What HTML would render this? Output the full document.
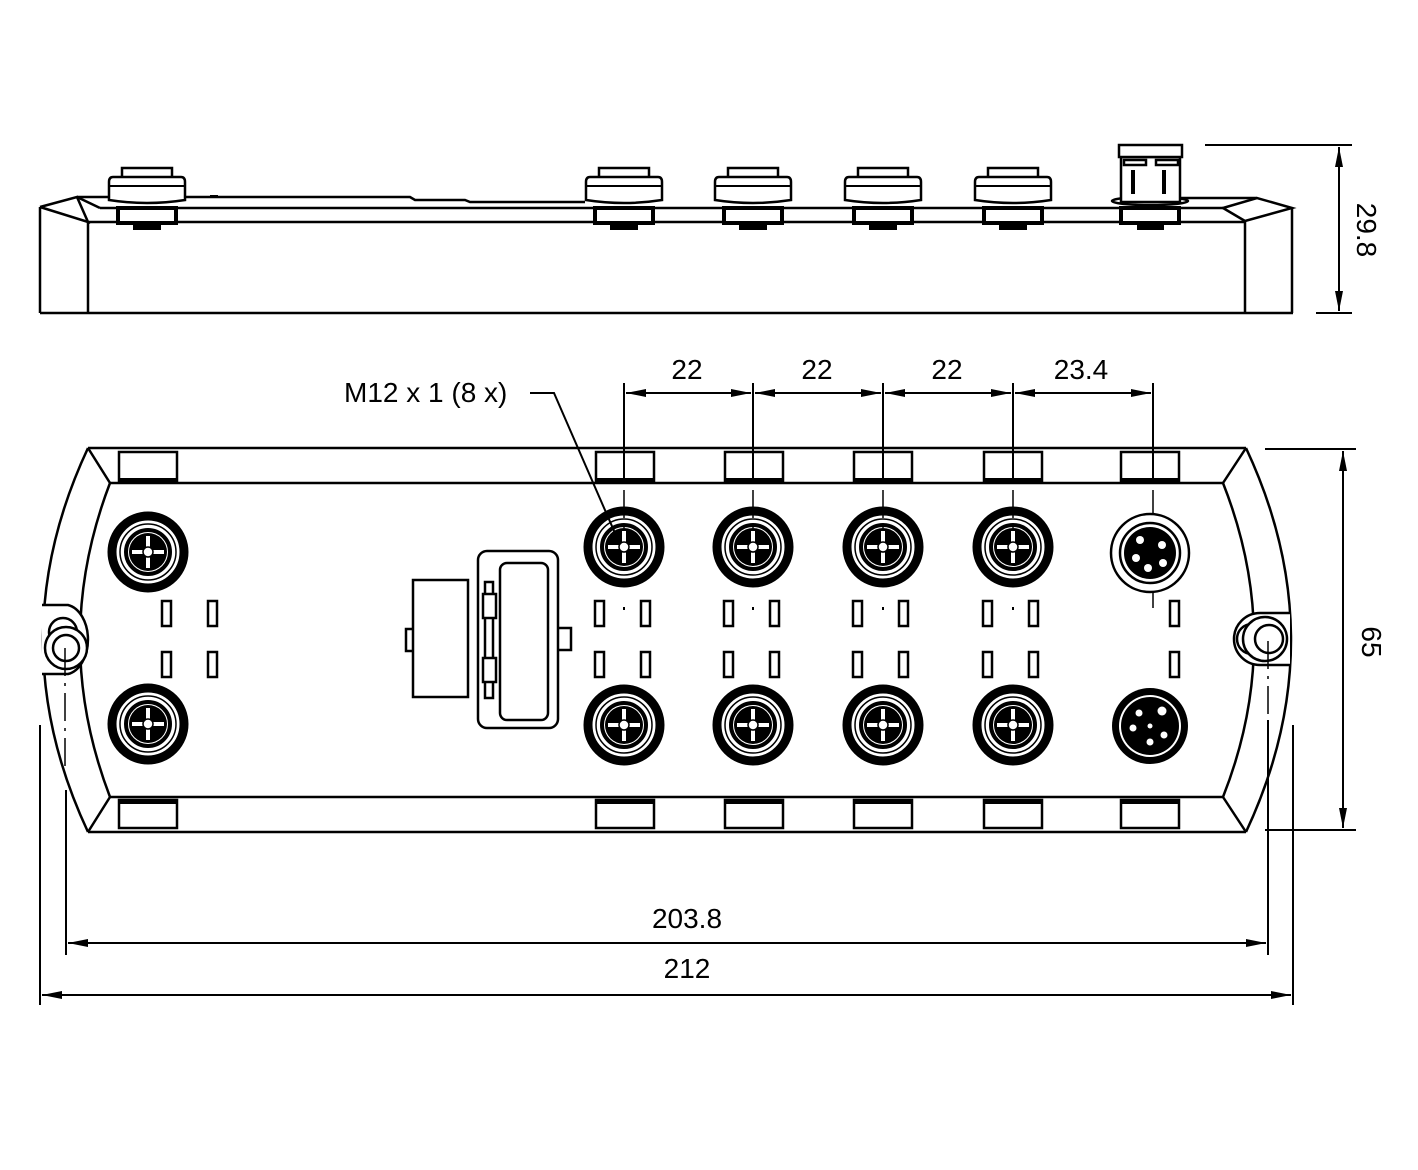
<!DOCTYPE html>
<html><head><meta charset="utf-8"><style>
html,body{margin:0;padding:0;background:#fff;}
svg{display:block;}
text{font-family:"Liberation Sans",Arial,sans-serif;font-size:28px;fill:#000;}
</style></head><body>
<svg width="1418" height="1170" viewBox="0 0 1418 1170" xmlns="http://www.w3.org/2000/svg">
<defs>
<marker id="a" viewBox="0 0 20 8" refX="20" refY="4" markerWidth="20" markerHeight="8" markerUnits="userSpaceOnUse" orient="auto-start-reverse"><path d="M0,0 L20,4 L0,8 z" fill="#000"/></marker>
<g id="m12">
<circle r="36" fill="none" stroke="#000" stroke-width="9"/>
<circle r="28" fill="none" stroke="#000" stroke-width="1.5"/>
<circle r="22" fill="none" stroke="#000" stroke-width="4"/>
<circle r="19" fill="#000"/>
<rect x="-16" y="-2" width="32" height="4" fill="#fff"/>
<rect x="-2" y="-16" width="4" height="32" fill="#fff"/>
<circle r="5" fill="#fff" stroke="#000" stroke-width="1.5"/>
</g>
<g id="side">
<path d="M-25,177 V168 H25 V177" fill="#fff" stroke="#000" stroke-width="2.5"/>
<path d="M-38,182 Q-38,177 -34,177 H34 Q38,177 38,182 V200 Q0,206 -38,200 Z" fill="#fff" stroke="#000" stroke-width="2.5"/>
<line x1="-38" y1="186" x2="38" y2="186" stroke="#000" stroke-width="2"/>
<rect x="-29" y="208" width="58" height="15" fill="#fff" stroke="#000" stroke-width="4"/>
<rect x="-14" y="223" width="28" height="7" fill="#000"/>
</g>
<g id="latchT"><rect x="-29" y="452" width="58" height="29" fill="#fff" stroke="#000" stroke-width="2.5"/><rect x="-29" y="478" width="58" height="4" fill="#000"/></g>
<g id="latchB"><rect x="-29" y="800" width="58" height="28" fill="#fff" stroke="#000" stroke-width="2.5"/><rect x="-29" y="800" width="58" height="4" fill="#000"/></g>
<g id="leds" fill="#fff" stroke="#000" stroke-width="2.5">
<rect x="-28" y="601" width="9" height="25"/><rect x="18" y="601" width="9" height="25"/>
<rect x="-28" y="652" width="9" height="25"/><rect x="18" y="652" width="9" height="25"/>
</g>
</defs>

<!-- SIDE VIEW -->
<g fill="none" stroke="#000" stroke-width="2.5">
<path d="M40,313 H1293"/>
<path d="M40,207 V313 M88,222 V313 M1245,221 V313 M1292,208 V313"/>
<path d="M40,207 L77,197 L88,222 L40,207"/>
<path d="M77,197 L100,208"/>
<path d="M88,222 H1245"/>
<path d="M100,208 H1223"/>
<path d="M77,197 H410 L415,200 H465 L470,202 H585"/>
<path d="M1223,208 L1257,198 L1292,208 L1245,221 Z"/>
<path d="M1180,198 H1257"/>
</g>
<rect x="210" y="195" width="8" height="3" fill="#000"/>
<use href="#side" x="147"/>
<use href="#side" x="624"/>
<use href="#side" x="753"/>
<use href="#side" x="883"/>
<use href="#side" x="1013"/>
<g stroke="#000" stroke-width="2.5" fill="#fff">
<ellipse cx="1150" cy="201" rx="38" ry="4"/>
<rect x="1121" y="157" width="59" height="45"/>
<rect x="1119" y="145" width="63" height="12"/>
<rect x="1124" y="160" width="22" height="5"/><rect x="1156" y="160" width="22" height="5"/>
<rect x="1121" y="208" width="58" height="15" stroke-width="4"/>
</g>
<rect x="1131" y="170" width="4" height="24" fill="#000"/><rect x="1162" y="170" width="4" height="24" fill="#000"/>
<rect x="1137" y="223" width="27" height="7" fill="#000"/>
<g stroke="#000" stroke-width="2" fill="none">
<path d="M1205,145 H1352 M1316,313 H1352"/>
<path d="M1339,147 V311" marker-start="url(#a)" marker-end="url(#a)"/>
</g>
<text transform="translate(1357,230) rotate(90)" text-anchor="middle">29.8</text>

<!-- TOP VIEW BODY -->
<g fill="none" stroke="#000" stroke-width="2.5">
<path d="M88,448 H1246"/>
<path d="M88,832 H1246"/>
<path d="M88,448 Q-2,640 88,832"/>
<path d="M1246,448 Q1336,640 1246,832"/>
<path d="M110,483 H1223 M110,797 H1223"/>
<path d="M110,483 Q50,640 110,797"/>
<path d="M1223,483 Q1285,640 1223,797"/>
<path d="M88,448 L110,483 M88,832 L110,797 M1246,448 L1223,483 M1246,832 L1223,797"/>
</g>
<g fill="#fff" stroke="#000" stroke-width="2.5">
<path d="M42,605 H68 A24,35 0 0 1 68,674 H42"/>
<circle cx="63" cy="632" r="14"/>
<circle cx="66" cy="648" r="21"/>
<circle cx="66" cy="648" r="13"/>
<path d="M1290,613 H1260 A26,26 0 0 0 1260,665 H1290"/>
<circle cx="1252" cy="639" r="15"/>
<circle cx="1265" cy="639" r="22"/>
<circle cx="1269" cy="639" r="14"/>
</g>
<g stroke="#000" stroke-width="1.5" fill="none" stroke-dasharray="28,7,3,7">
<path d="M65,648 V775"/><path d="M1268,641 V780"/>
<path d="M624,490 V540"/><path d="M753,490 V540"/><path d="M883,490 V540"/><path d="M1013,490 V540"/><path d="M1153,490 V615"/>
</g>
<g fill="#000"><rect x="623" y="607" width="2" height="3"/><rect x="752" y="607" width="2" height="3"/><rect x="882" y="607" width="2" height="3"/><rect x="1012" y="607" width="2" height="3"/></g>
<use href="#latchT" x="148"/><use href="#latchT" x="625"/><use href="#latchT" x="754"/><use href="#latchT" x="883"/><use href="#latchT" x="1013"/><use href="#latchT" x="1150"/>
<use href="#latchB" x="148"/><use href="#latchB" x="625"/><use href="#latchB" x="754"/><use href="#latchB" x="883"/><use href="#latchB" x="1013"/><use href="#latchB" x="1150"/>
<g stroke="#000" stroke-width="1.5"><path d="M624,455 V475 M753,455 V475 M883,455 V475 M1013,455 V475 M1153,452 V480"/></g>
<use href="#m12" x="148" y="552"/><use href="#m12" x="148" y="724"/>
<use href="#m12" x="624" y="547"/><use href="#m12" x="753" y="547"/><use href="#m12" x="883" y="547"/><use href="#m12" x="1013" y="547"/>
<use href="#m12" x="624" y="725"/><use href="#m12" x="753" y="725"/><use href="#m12" x="883" y="725"/><use href="#m12" x="1013" y="725"/>
<g>
<circle cx="1150" cy="553" r="39" fill="#fff" stroke="#000" stroke-width="2.5"/>
<circle cx="1150" cy="553" r="30" fill="#fff" stroke="#000" stroke-width="2.5"/>
<circle cx="1150" cy="553" r="26" fill="#000"/>
<g fill="#fff"><circle cx="1140" cy="540" r="4"/><circle cx="1162" cy="545" r="4"/><circle cx="1136" cy="558" r="4"/><circle cx="1148" cy="568" r="4"/><circle cx="1163" cy="563" r="4"/></g>
</g>
<g>
<circle cx="1150" cy="726" r="38" fill="#000"/>
<circle cx="1150" cy="726" r="31" fill="#fff"/>
<circle cx="1150" cy="726" r="29" fill="#000"/>
<g fill="#fff"><circle cx="1139" cy="713" r="3.5"/><circle cx="1162" cy="711" r="4.5"/><circle cx="1133" cy="728" r="3.5"/><circle cx="1150" cy="742" r="3.5"/><circle cx="1164" cy="735" r="3.5"/><circle cx="1150" cy="726" r="2.5"/></g>
</g>
<use href="#leds" x="190"/>
<use href="#leds" x="623"/><use href="#leds" x="752"/><use href="#leds" x="881"/><use href="#leds" x="1011"/>
<g fill="#fff" stroke="#000" stroke-width="2.5"><rect x="1170" y="601" width="9" height="25"/><rect x="1170" y="652" width="9" height="25"/></g>
<g fill="#fff" stroke="#000" stroke-width="2.5">
<rect x="406" y="629" width="8" height="22"/>
<rect x="557" y="628" width="14" height="22"/>
<rect x="413" y="580" width="55" height="117"/>
<rect x="478" y="551" width="80" height="177" rx="9"/>
<rect x="485" y="582" width="8" height="116"/>
<rect x="483" y="594" width="13" height="24"/><rect x="483" y="658" width="13" height="24"/>
<rect x="500" y="563" width="48" height="157" rx="7"/>
</g>
<g stroke="#000" stroke-width="2" fill="none">
<path d="M624,383 V480 M753,383 V480 M883,383 V480 M1013,383 V480 M1153,383 V480"/>
<path d="M626,393 H751" marker-start="url(#a)" marker-end="url(#a)"/>
<path d="M755,393 H881" marker-start="url(#a)" marker-end="url(#a)"/>
<path d="M885,393 H1011" marker-start="url(#a)" marker-end="url(#a)"/>
<path d="M1015,393 H1151" marker-start="url(#a)" marker-end="url(#a)"/>
<path d="M530,393 H554 L618,540"/>
</g>
<text x="687" y="379" text-anchor="middle">22</text>
<text x="817" y="379" text-anchor="middle">22</text>
<text x="947" y="379" text-anchor="middle">22</text>
<text x="1081" y="379" text-anchor="middle">23.4</text>
<text x="344" y="402">M12 x 1 (8 x)</text>
<g stroke="#000" stroke-width="2" fill="none">
<path d="M1265,449 H1356 M1265,830 H1356"/>
<path d="M1343,451 V828" marker-start="url(#a)" marker-end="url(#a)"/>
</g>
<text transform="translate(1362,642) rotate(90)" text-anchor="middle">65</text>
<g stroke="#000" stroke-width="2" fill="none">
<path d="M66,790 V955 M1268,720 V955 M40,725 V1005 M1293,725 V1005"/>
<path d="M68,943 H1266" marker-start="url(#a)" marker-end="url(#a)"/>
<path d="M42,995 H1291" marker-start="url(#a)" marker-end="url(#a)"/>
</g>
<text x="687" y="928" text-anchor="middle">203.8</text>
<text x="687" y="978" text-anchor="middle">212</text>
</svg>
</body></html>
